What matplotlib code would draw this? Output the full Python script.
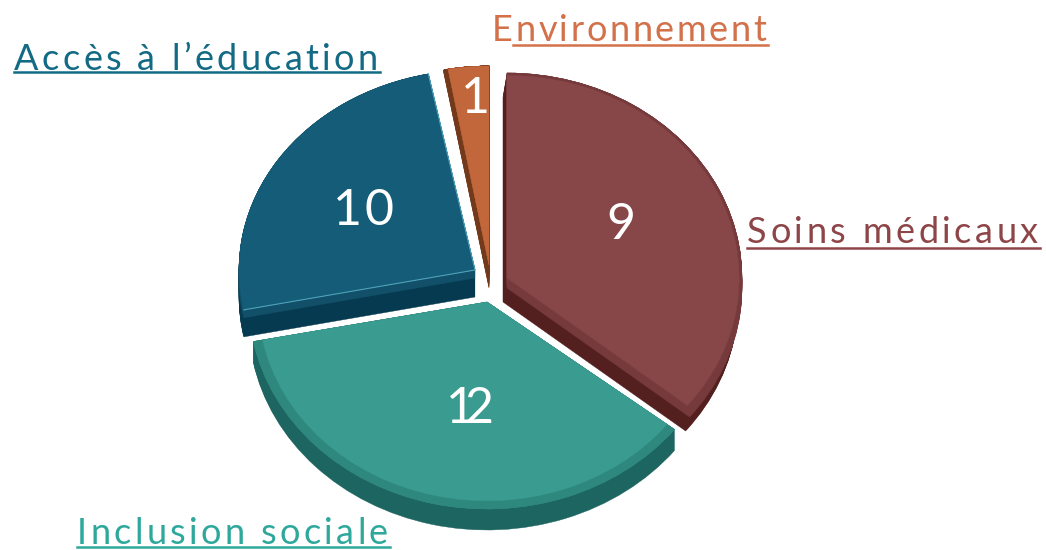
import matplotlib
matplotlib.use("Agg")
import numpy as np
import matplotlib.pyplot as plt
from matplotlib.patches import Wedge
from matplotlib.text import Text
from matplotlib.transforms import Affine2D, IdentityTransform

categories = ["Soins médicaux", "Inclusion sociale", "Accès à l’éducation", "Environnement"]
values = [9, 12, 10, 1]
# Angular extent of each slice as drawn in the picture (degrees clockwise from 12 o'clock)
slice_start = [0.0, 128.0, 258.5, 350.0]
slice_end = [129.0, 259.0, 348.6, 360.0]

top_colors = ["#874648", "#3a9c91", "#145c78", "#c2663c"]
bevel_colors = ["#763a3c", "#2f887e", "#124f68", "#8f4a24"]
side_colors = ["#54201f", "#1d6560", "#063a50", "#73391b"]
label_colors = ["#8d4548", "#2fa89c", "#136a85", "#d2714a"]

apex = [(507, 278), (487, 302), (475, 270), (489, 265)]
extrude = [(-4, 24), (0, 21), (0, 27), (0, 23)]
side_grow = [0, 0, 0, 23]
side_pad = [0, 0, 0, 1.2]
bevel = [10, 0, 8, 0]
rim = [0.988, 0.96, 1.0, 1.0]
radius_x = [235, 238, 236, 236]
radius_y = [205, 207, 200, 199]

label_pos = [(747, 243), (77, 544), (14, 70), (492, 41)]
label_right = [1038, 388, 378, 766]
underline = [(747, 1040, 248), (77, 390, 547), (14, 380, 72), (513, 768, 45)]
value_pos = [(621, 239), (470, 423), (363, 225), (475, 113)]
value_tracking = [0, -10, 2, 0]

fig = plt.figure(figsize=(10.46, 5.5), dpi=100, facecolor="white")
ax = fig.add_axes([0, 0, 1, 1])
ax.set_xlim(0, 1046)
ax.set_ylim(550, 0)
ax.axis("off")


class SpacedText(Text):
    """One text artist whose characters are drawn with extra letter spacing."""

    def __init__(self, x, y, s, tracking=None, right=None, centered=False, **kw):
        super().__init__(x, y, s, **kw)
        self._tracking = tracking
        self._right = right
        self._centered = centered

    def draw(self, renderer):
        s = self.get_text()
        fp = self.get_fontproperties()
        prefix = [renderer.get_text_width_height_descent(s[:k], fp, False)[0]
                  for k in range(len(s) + 1)]
        x, y = self.get_transform().transform((self.get_position()))
        if self._right is not None:
            xr = self.get_transform().transform((self._right, 0))[0]
            track = (xr - x - prefix[-1]) / (len(s) - 1)
        else:
            track = self._tracking or 0
        if self._centered:
            x -= (prefix[-1] + track * (len(s) - 1)) / 2
        for k, ch in enumerate(s):
            if ch == " ":
                continue
            c = Text(x + prefix[k] + k * track, y, ch, transform=IdentityTransform(),
                     color=self.get_color(), fontproperties=fp,
                     ha="left", va="baseline")
            c.set_figure(self.get_figure())
            c.draw(renderer)


def wedge(c, a0, a1, rx, ry, color, z):
    tr = Affine2D().scale(rx, ry).translate(*c) + ax.transData
    ax.add_patch(Wedge((0, 0), 1, a0 - 90, a1 - 90, facecolor=color, edgecolor=color,
                       linewidth=0.3, transform=tr, zorder=z))


for i in range(len(values)):
    a0, a1 = slice_start[i], slice_end[i]
    cx, cy = apex[i]
    dx, dy = extrude[i]
    rx, ry = radius_x[i], radius_y[i]
    for s in np.linspace(1, 0, max(abs(dx), abs(dy), 1) + 1):
        wedge((cx + dx * s, cy + dy * s), a0 - side_pad[i] * s, a1, rx, ry + side_grow[i] * s,
              side_colors[i], 2)
    for s in np.linspace(1, 0, bevel[i] + 1):
        wedge((cx, cy + bevel[i] * s), a0, a1, rx, ry, bevel_colors[i], 3)
    wedge((cx, cy), a0, a1, rx, ry, bevel_colors[i], 3)
    wedge((cx, cy), a0, a1, rx * rim[i], ry * rim[i], top_colors[i], 4)

# thin light edge along the straight sides of the blue slice
t = np.radians([slice_end[2], slice_start[2]])
ax.plot([apex[2][0] + radius_x[2] * np.sin(t[0]), apex[2][0], apex[2][0] + radius_x[2] * np.sin(t[1])],
        [apex[2][1] - radius_y[2] * np.cos(t[0]), apex[2][1], apex[2][1] - radius_y[2] * np.cos(t[1])],
        color="#4fa3bb", lw=0.8, zorder=5)

for i, name in enumerate(categories):
    ax.add_artist(SpacedText(*label_pos[i], name, right=label_right[i], color=label_colors[i],
                             fontsize=26, family="Lato", zorder=6, transform=ax.transData))
    x0, x1, y = underline[i]
    ax.plot([x0, x1], [y, y], color=label_colors[i], lw=1.8, zorder=6)
    ax.add_artist(SpacedText(*value_pos[i], str(values[i]), tracking=value_tracking[i], centered=True,
                             color="white", fontsize=36, family="Lato", zorder=6,
                             transform=ax.transData))

fig.savefig("out.png", dpi=100)
